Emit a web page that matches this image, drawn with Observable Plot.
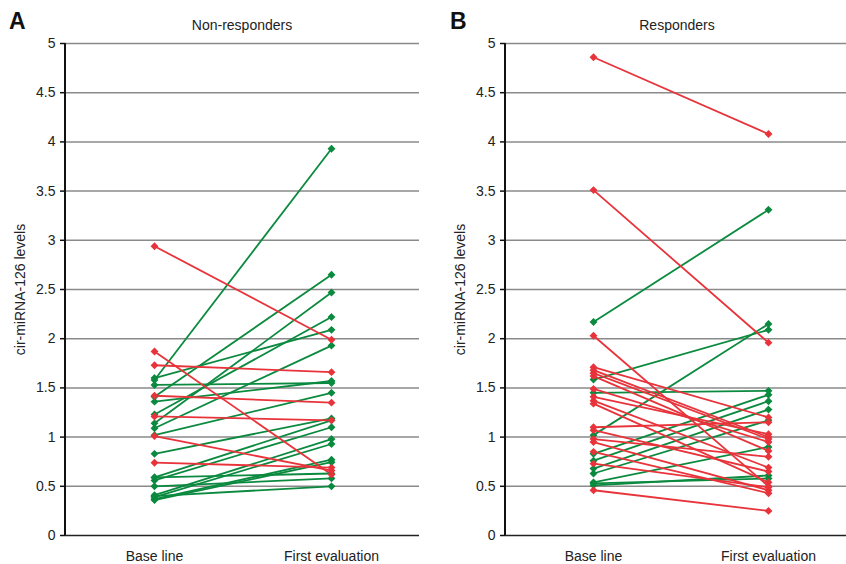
<!DOCTYPE html>
<html>
<head>
<meta charset="utf-8">
<script src="https://cdn.jsdelivr.net/npm/d3@7"></script>
<script src="https://cdn.jsdelivr.net/npm/@observablehq/plot@0.6"></script>
<style>
  html, body { margin: 0; padding: 0; background: #fff; overflow: hidden; }
  #wrap { position: relative; width: 846px; height: 564px; overflow: hidden; font-family: "Liberation Sans", Arial, sans-serif; }
  .panel { position: absolute; top: 0; }
  .panel svg { max-width: none !important; }
  .letter { position: absolute; font-weight: bold; font-size: 23px; color: #111; }
  .title { position: absolute; font-size: 14px; color: #222; transform: translateX(-50%); white-space: nowrap; }
</style>
</head>
<body>
<div id="wrap">
  <div class="panel" id="pa" style="left:0px; width:430px"></div>
  <div class="panel" id="pb" style="left:440px; width:440px"></div>
  <div class="letter" style="left:9px; top:8px">A</div>
  <div class="letter" style="left:450px; top:8px">B</div>
  <div class="title" style="left:242px; top:17px">Non-responders</div>
  <div class="title" style="left:677px; top:17px">Responders</div>
</div>
<script>
const categories = ["Base line", "First evaluation"];
const yTicks = [0, 0.5, 1, 1.5, 2, 2.5, 3, 3.5, 4, 4.5, 5];
const yLabel = "cir-miRNA-126 levels";

// Panel A: Non-responders
const nrRedBase   = [2.94, 1.87, 1.73, 1.42, 1.21, 1.01, 0.74];
const nrRedFirst  = [1.99, 0.62, 1.66, 1.35, 1.17, 0.66, 0.69];
const nrGreenBase  = [1.60, 1.58, 1.53, 1.41, 1.36, 1.23, 1.14, 1.09, 1.02, 0.83, 0.59, 0.56, 0.41, 0.39, 0.37, 0.36, 0.59, 0.50, 0.40];
const nrGreenFirst = [2.09, 3.93, 1.55, 2.65, 1.57, 2.22, 2.47, 1.93, 1.45, 1.19, 1.17, 1.10, 0.98, 0.93, 0.77, 0.745, 0.63, 0.58, 0.50];

// Panel B: Responders
const rRedBase   = [4.86, 3.51, 2.03, 1.71, 1.68, 1.65, 1.62, 1.49, 1.41, 1.37, 1.34, 1.10, 1.07, 0.98, 0.95, 0.85, 0.73, 0.46];
const rRedFirst  = [4.08, 1.96, 0.50, 1.20, 1.00, 0.98, 0.86, 0.95, 1.03, 0.69, 0.54, 1.15, 0.65, 0.80, 0.46, 0.43, 0.49, 0.25];
const rGreenBase  = [2.17, 1.585, 1.02, 1.45, 0.83, 0.76, 0.68, 0.63, 0.54, 0.51, 0.53];
const rGreenFirst = [3.31, 2.09, 2.15, 1.47, 1.43, 1.365, 1.28, 1.17, 0.90, 0.61, 0.58];

const RED = "#e8333b";
const GREEN = "#0b8a3f";

function pairs(base, first, color) {
  return base.map((b, i) => ({b, f: first[i], color}));
}

function axisLine(index, scales, values, dims) {
  const x = dims.marginLeft;
  return d3.create("svg:line")
    .attr("x1", x).attr("x2", x)
    .attr("y1", scales.y(5)).attr("y2", scales.y(0))
    .attr("stroke", "#111").attr("stroke-width", 2)
    .node();
}

function panel(redB, redF, greenB, greenF, marginRight, width) {
  const rows = [...pairs(greenB, greenF, GREEN), ...pairs(redB, redF, RED)];
  const pts = rows.flatMap(r => [
    {x: categories[0], y: r.b, color: r.color},
    {x: categories[1], y: r.f, color: r.color}
  ]);
  const svg = Plot.plot({
    width, height: 564,
    marginLeft: 65, marginRight, marginTop: 43, marginBottom: 29,
    style: {fontFamily: "'Liberation Sans', Arial, sans-serif", fontSize: "14px", color: "#222", background: "#fff", maxWidth: "none"},
    x: {type: "point", domain: categories, padding: 0.5},
    y: {domain: [0, 5]},
    marks: [
      Plot.ruleY(yTicks.filter(d => d > 0), {stroke: "#8a8a8a", strokeWidth: 1.5}),
      Plot.ruleY([0], {stroke: "#222", strokeWidth: 1.5}),
      Plot.axisY({ticks: yTicks, tickFormat: d => String(d), tickSize: 5, tickPadding: 5,
        stroke: "#111", strokeWidth: 1.5, fontSize: 14,
        label: yLabel, labelAnchor: "center", labelArrow: "none", labelOffset: 50}),
      axisLine,
      Plot.axisX({tickSize: 0, tickPadding: 16, fontSize: 14, label: null}),
      Plot.link(rows, {x1: () => categories[0], y1: "b", x2: () => categories[1], y2: "f",
        stroke: "color", strokeWidth: 1.8}),
      Plot.dot(pts, {x: "x", y: "y", fill: "color", stroke: "color", symbol: "diamond2", r: 2.6})
    ]
  });
  svg.style.maxWidth = "none";
  return svg;
}

document.getElementById("pa").appendChild(panel(nrRedBase, nrRedFirst, nrGreenBase, nrGreenFirst, 11, 430));
document.getElementById("pb").appendChild(panel(rRedBase, rRedFirst, rGreenBase, rGreenFirst, 25, 440));
</script>
</body>
</html>
